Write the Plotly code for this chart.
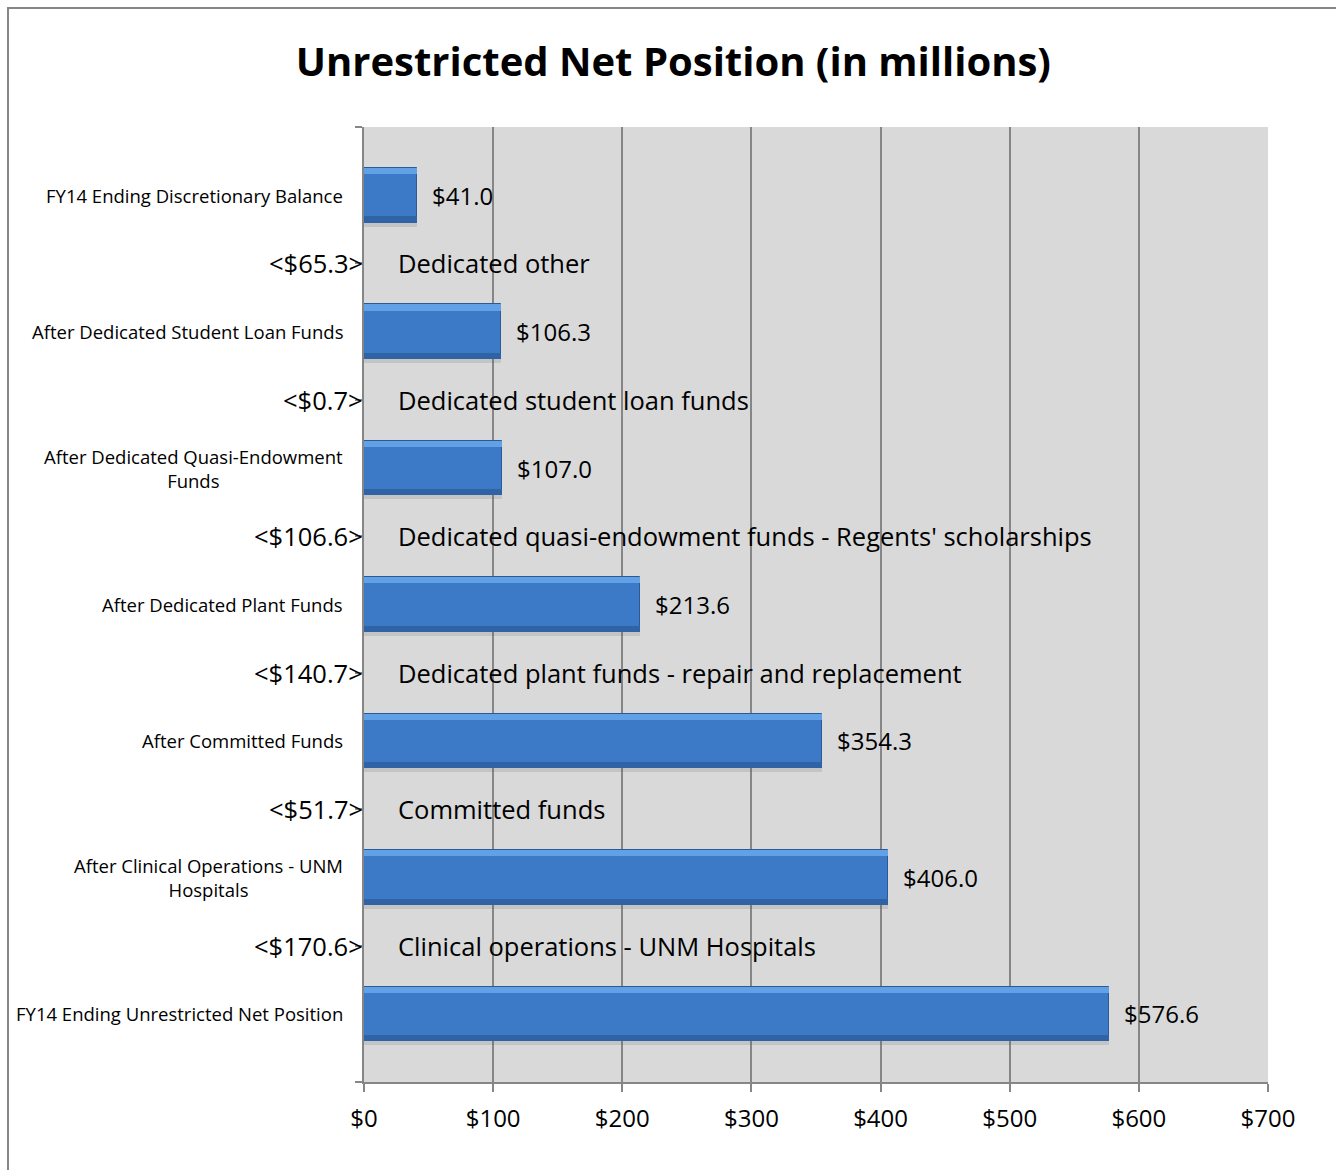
import plotly.graph_objects as go

# Waterfall steps, listed top to bottom
bar_labels = [
    "FY14 Ending Discretionary Balance",
    "After Dedicated Student Loan Funds",
    "After Dedicated Quasi-Endowment<br>Funds",
    "After Dedicated Plant Funds",
    "After Committed Funds",
    "After Clinical Operations - UNM<br>Hospitals",
    "FY14 Ending Unrestricted Net Position",
]
bar_values = [41.0, 106.3, 107.0, 213.6, 354.3, 406.0, 576.6]

# Deductions between consecutive steps, top to bottom
deduction_labels = [
    "Dedicated other",
    "Dedicated student loan funds",
    "Dedicated quasi-endowment funds - Regents' scholarships",
    "Dedicated plant funds - repair and replacement",
    "Committed funds",
    "Clinical operations - UNM Hospitals",
]
deduction_values = [65.3, 0.7, 106.6, 140.7, 51.7, 170.6]

x_ticks = [0, 100, 200, 300, 400, 500, 600, 700]

FONT = "Open Sans"
W, H = 1336, 1170
ML, MR, MT, MB = 364, 68, 127, 88

n_rows = len(bar_values) + len(deduction_values)
# row positions: top row gets the highest y value
bar_y = [n_rows - 1 - 2 * i for i in range(len(bar_values))]
ded_y = [n_rows - 2 - 2 * i for i in range(len(deduction_values))]

fig = go.Figure()

# soft shadow under each bar
fig.add_trace(go.Bar(
    x=bar_values, y=bar_y, orientation="h", width=0.1, offset=-0.46,
    marker=dict(color="rgba(90,90,90,0.16)", line=dict(width=0)),
    hoverinfo="skip", showlegend=False,
))
# main bar body
fig.add_trace(go.Bar(
    x=bar_values, y=bar_y, orientation="h", width=0.8, offset=-0.4,
    marker=dict(color="#3c7ac7", line=dict(color="#2c5a96", width=1)),
    showlegend=False,
))
# darker lower bevel
fig.add_trace(go.Bar(
    x=bar_values, y=bar_y, orientation="h", width=0.09, offset=-0.4,
    marker=dict(color="#2f63a6", line=dict(width=0)),
    hoverinfo="skip", showlegend=False,
))
# bright upper bevel
fig.add_trace(go.Bar(
    x=bar_values, y=bar_y, orientation="h", width=0.09, offset=0.31,
    marker=dict(color="#62a1e6", line=dict(width=0)),
    hoverinfo="skip", showlegend=False,
))

annotations = []
# value labels to the right of each bar
for v, y in zip(bar_values, bar_y):
    annotations.append(dict(
        x=v, y=y, xref="x", yref="y", text=f"${v:.1f}", showarrow=False,
        xanchor="left", xshift=13, font=dict(family=FONT, size=24, color="#000"),
    ))
# category labels at the left of the axis
for lab, y in zip(bar_labels, bar_y):
    annotations.append(dict(
        x=0, y=y, xref="paper", yref="y", text=lab, showarrow=False,
        xanchor="right", align="center", xshift=-19,
        font=dict(family=FONT, size=18.5, color="#000"),
    ))
# deduction amounts and descriptions
for lab, v, y in zip(deduction_labels, deduction_values, ded_y):
    annotations.append(dict(
        x=0, y=y, xref="paper", yref="y", text=f"<${v:.1f}>", showarrow=False,
        xanchor="right", xshift=1, font=dict(family=FONT, size=25.5, color="#000"),
    ))
    annotations.append(dict(
        x=24.5, y=y, xref="x", yref="y", text=lab, showarrow=False,
        xanchor="left", font=dict(family=FONT, size=25.5, color="#000"),
    ))

pw = W - ML - MR
ph = H - MT - MB
shapes = [dict(
    type="rect", xref="paper", yref="paper",
    x0=(8 - ML) / pw, x1=(W + 6 - ML) / pw,
    y0=(H - MB - (H + 6)) / ph, y1=(H - MB - 8) / ph,
    line=dict(color="#868686", width=2), fillcolor="rgba(0,0,0,0)", layer="below",
)]

fig.update_layout(
    width=W, height=H,
    margin=dict(l=ML, r=MR, t=MT, b=MB, pad=0),
    paper_bgcolor="white", plot_bgcolor="#d9d9d9",
    barmode="overlay", bargap=0,
    title=dict(
        text="<b>Unrestricted Net Position (in millions)</b>",
        x=0.504, xanchor="center", y=1 - 62 / H, yanchor="middle",
        font=dict(family=FONT, size=40, color="#000"),
    ),
    xaxis=dict(
        range=[0, 700], tickvals=x_ticks, ticktext=[f"${t}" for t in x_ticks],
        showgrid=True, gridcolor="#868686", gridwidth=1.5,
        showline=True, linecolor="#868686", linewidth=1.5,
        ticks="outside", ticklen=8, tickcolor="#868686", tickwidth=1.5,
        zeroline=False, ticklabelstandoff=6,
        tickfont=dict(family=FONT, size=24, color="#000"),
    ),
    yaxis=dict(
        range=[-1, n_rows], tickvals=[-1, n_rows] + ded_y,
        ticktext=[""] * (2 + len(ded_y)),
        showgrid=False, zeroline=False,
        showline=True, linecolor="#868686", linewidth=1.5,
        ticks="outside", ticklen=7, tickcolor="#868686", tickwidth=1.5,
    ),
    annotations=annotations,
    shapes=shapes,
)

fig.write_html("out.html")
